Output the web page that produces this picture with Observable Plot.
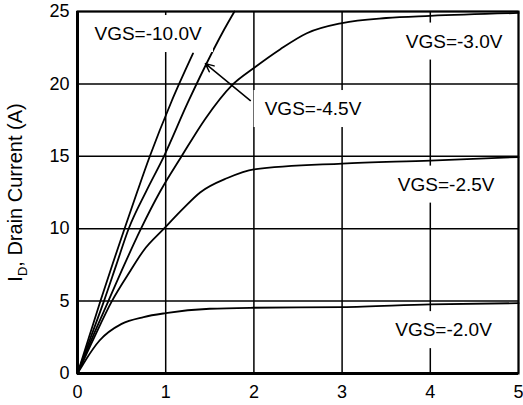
<!DOCTYPE html>
<html>
<head>
<meta charset="utf-8">
<script src="https://cdn.jsdelivr.net/npm/d3@7"></script>
<script src="https://cdn.jsdelivr.net/npm/@observablehq/plot@0.6"></script>
<style>
  html, body { margin: 0; padding: 0; background: #fff; }
  svg { display: block; }
</style>
</head>
<body>
<div id="chart"></div>
<script>
// Axis ticks
const xTicks = [0, 1, 2, 3, 4, 5];
const yTicks = [0, 5, 10, 15, 20, 25];

// Output characteristics: [VDS (V), ID (A)] for each gate voltage
const vgs10 = [[0, 0], [0.13, 2.5], [0.26, 5], [0.4, 7.6], [0.533, 10], [0.68, 12.6], [0.82, 15], [1.06, 18.7], [1.31, 22.1]];
const vgs45 = [[0, 0], [0.15, 2.5], [0.30, 5], [0.44, 7.5], [0.58, 10], [0.78, 12.6], [0.98, 15], [1.25, 18.7], [1.52, 22.1], [1.64, 23.5], [1.78, 25]];
const vgs30 = [[0, 0], [0.17, 2.5], [0.35, 5], [0.53, 7.5], [0.72, 10], [0.94, 12.6], [1.18, 15], [1.45, 17.6], [1.75, 19.9], [2.0, 21.1], [2.3, 22.4], [2.6, 23.5], [3.0, 24.2], [3.5, 24.55], [4.0, 24.7], [5.0, 24.9]];
const vgs25 = [[0, 0], [0.19, 2.5], [0.39, 5], [0.6, 7.1], [0.75, 8.5], [0.98, 10], [1.2, 11.4], [1.39, 12.5], [1.7, 13.5], [2.0, 14.1], [3.0, 14.5], [4.0, 14.7], [5.0, 14.95]];
const vgs20 = [[0, 0], [0.05, 0.5], [0.1, 1.0], [0.25, 2.28], [0.5, 3.43], [0.75, 3.9], [1.0, 4.17], [1.5, 4.47], [2.0, 4.54], [3.0, 4.58], [4.0, 4.77], [5.0, 4.86]];

// Curve labels and where they sit (data coordinates)
const labelNames = ["VGS=-10.0V", "VGS=-4.5V", "VGS=-3.0V", "VGS=-2.5V", "VGS=-2.0V"];
const labelVds = [0.80, 2.67, 4.27, 4.18, 4.15];
const labelId = [23.45, 18.27, 22.93, 13.05, 3.0];

// Leader arrow from the VGS=-4.5V label to its curve
const arrowFrom = [1.96, 18.85];
const arrowTo = [1.45, 21.4];

const curves = [vgs10, vgs45, vgs30, vgs25, vgs20];
const rows = curves.flatMap((pts, k) => pts.map(([v, i]) => ({vgs: labelNames[k], v, i})));
const labels = labelNames.map((t, k) => ({text: t, v: labelVds[k], i: labelId[k]}));

const chart = Plot.plot({
  width: 523,
  height: 405,
  marginLeft: 77,
  marginRight: 5,
  marginTop: 11,
  marginBottom: 32,
  style: {
    fontFamily: "'Liberation Sans', Arial, Helvetica, sans-serif",
    fontSize: "18px",
    color: "#000",
    background: "#fff",
    overflow: "visible"
  },
  x: {domain: [0, 5]},
  y: {domain: [0, 25]},
  marks: [
    Plot.ruleX(xTicks, {stroke: "#000", strokeWidth: 1.5}),
    Plot.ruleY(yTicks, {stroke: "#000", strokeWidth: 1.5}),
    Plot.line(rows, {x: "v", y: "i", z: "vgs", curve: "monotone-x", stroke: "#000", strokeWidth: 1.8}),
    Plot.text(labels, {x: "v", y: "i", text: "text", fontSize: 19, fill: "#000", ariaDescription: "curve labels"}),
    Plot.arrow([{x1: arrowFrom[0], y1: arrowFrom[1], x2: arrowTo[0], y2: arrowTo[1]}], {
      x1: "x1", y1: "y1", x2: "x2", y2: "y2", stroke: "#000", strokeWidth: 1.5, headLength: 9, headAngle: 50
    }),
    Plot.axisX({ticks: xTicks, tickFormat: d => String(d), tickSize: 0, tickPadding: 12, label: null}),
    Plot.axisY({ticks: yTicks, tickFormat: d => String(d), tickSize: 0, tickPadding: 8, label: "ID, Drain Current (A)", labelAnchor: "center", labelOffset: 70}),
    Plot.frame({stroke: "#000", strokeWidth: 2}),
    Plot.ruleX([0], {stroke: "#000", strokeWidth: 3}),
    Plot.ruleY([0], {stroke: "#000", strokeWidth: 3})
  ]
});

document.getElementById("chart").append(chart);

const svg = d3.select(chart);
const svgBox = chart.getBoundingClientRect();

// White boxes behind the curve labels, sized from the rendered text
const labelGroup = svg.select('g[aria-description="curve labels"]');
const boxes = [];
labelGroup.selectAll("text").each(function () {
  const b = this.getBoundingClientRect();
  boxes.push({x: b.left - svgBox.left, y: b.top - svgBox.top, w: b.width, h: b.height});
});
const padX = 11, padY = 8;
svg.insert("g", () => labelGroup.node())
  .selectAll("rect")
  .data(boxes)
  .join("rect")
  .attr("x", d => d.x - padX)
  .attr("y", d => d.y - padY)
  .attr("width", d => d.w + 2 * padX)
  .attr("height", d => d.h + 2 * padY)
  .attr("fill", "#fff");

// Subscript D in the y-axis title
const ylab = svg.selectAll("text").filter(function () { return this.textContent.includes("Drain"); });
ylab.text(null).attr("font-size", 20);
ylab.append("tspan").text("I");
ylab.append("tspan").attr("font-size", 13).attr("dy", 5).text("D");
ylab.append("tspan").attr("dy", -5).text(", Drain Current (A)");
</script>
</body>
</html>
